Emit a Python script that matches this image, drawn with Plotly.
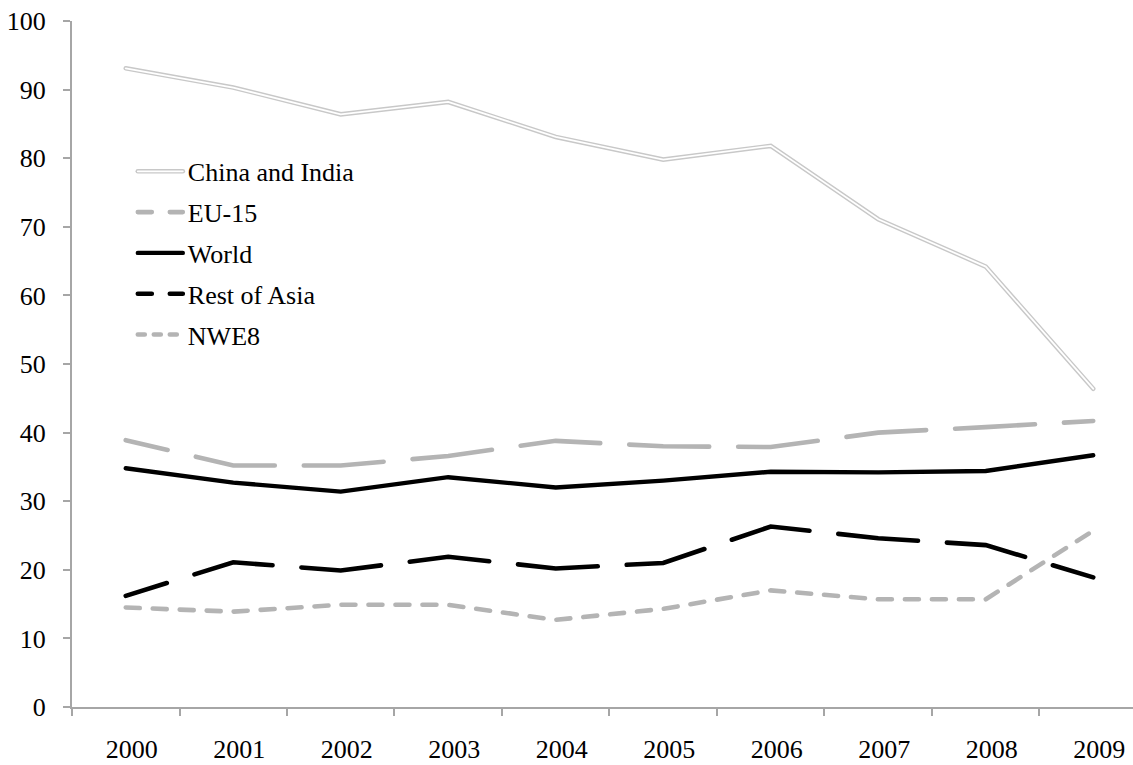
import plotly.graph_objects as go

years = ["2000", "2001", "2002", "2003", "2004", "2005", "2006", "2007", "2008", "2009"]
china_india = [93.1, 90.3, 86.4, 88.2, 83.1, 79.8, 81.8, 71.1, 64.2, 46.4]
eu15 = [38.9, 35.2, 35.2, 36.6, 38.8, 38.0, 37.9, 40.0, 40.8, 41.7]
world = [34.8, 32.7, 31.4, 33.5, 32.0, 33.0, 34.3, 34.2, 34.4, 36.7]
rest_of_asia = [16.2, 21.1, 19.9, 21.9, 20.2, 21.0, 26.3, 24.6, 23.6, 18.9]
nwe8 = [14.5, 13.9, 14.9, 14.9, 12.7, 14.3, 17.0, 15.7, 15.7, 25.7]

FONT = "Liberation Serif, Times New Roman, serif"
AXIS = "#a6a6a6"
LGREY = "#c8c8c8"
MGREY = "#b4b4b4"
FS = 26

fig = go.Figure()
# China and India: double line (grey wide line with white core)
fig.add_trace(go.Scatter(x=years, y=china_india, mode="lines", name="China and India",
                         legendgroup="g1", line=dict(color=LGREY, width=4.6)))
fig.add_trace(go.Scatter(x=years, y=china_india, mode="lines", name="China and India",
                         legendgroup="g1", showlegend=False, line=dict(color="white", width=1.8)))
fig.add_trace(go.Scatter(x=years, y=eu15, mode="lines", name="EU-15", legendgroup="g2",
                         line=dict(color=MGREY, width=4.6, dash="80px,29px")))
fig.add_trace(go.Scatter(x=years, y=world, mode="lines", name="World", legendgroup="g3",
                         line=dict(color="black", width=4.4)))
fig.add_trace(go.Scatter(x=years, y=rest_of_asia, mode="lines", name="Rest of Asia", legendgroup="g4",
                         line=dict(color="black", width=4.6, dash="80px,29px")))
fig.add_trace(go.Scatter(x=years, y=nwe8, mode="lines", name="NWE8", legendgroup="g5",
                         line=dict(color=MGREY, width=4.6, dash="14px,13px")))

fig.update_layout(
    width=1133, height=765,
    margin=dict(l=72, r=0, t=21, b=58),
    paper_bgcolor="white", plot_bgcolor="white",
    font=dict(family=FONT, size=FS, color="black"),
    hovermode=False,
    showlegend=True,
    legend=dict(x=0.0592, y=0.815, xanchor="left", yanchor="top",
                bgcolor="rgba(0,0,0,0)", borderwidth=0,
                traceorder="grouped", tracegroupgap=4,
                itemwidth=43, font=dict(family=FONT, size=FS, color="black")),
    xaxis=dict(type="category", range=[-0.5, 9.37], showgrid=False, zeroline=False,
               showline=True, linecolor=AXIS, linewidth=2,
               ticks="outside", tickson="boundaries", ticklen=7, tickwidth=2, tickcolor=AXIS,
               ticklabelstandoff=18, ticklabelshift=6, tickfont=dict(family=FONT, size=FS)),
    yaxis=dict(range=[0, 100], dtick=10, showgrid=False, zeroline=False,
               showline=True, linecolor=AXIS, linewidth=2,
               ticks="outside", ticklen=7, tickwidth=2, tickcolor=AXIS,
               ticklabelstandoff=12, tickfont=dict(family=FONT, size=FS)),
)

post = """
document.body.style.margin='0';
document.body.style.overflow='hidden';
var gd = document.getElementById('{plot_id}');
gd.querySelectorAll('.scatterlayer path.js-line').forEach(function(p){p.style.strokeLinecap='round';});
var tr = gd.querySelectorAll('.scatterlayer .trace');
[2,4].forEach(function(i){ if(tr[i]){ var p=tr[i].querySelector('path.js-line'); if(p){p.style.strokeDashoffset='37px';} } });
gd.querySelectorAll('.legend .traces').forEach(function(t, i){
  var p = t.querySelector('.legendlines path');
  if(!p) return;
  p.setAttribute('d', 'M3,0h45');
  p.style.strokeLinecap='round';
  if(i===1 || i===3){ p.style.strokeDasharray='14px,18px'; }
  if(i===4){ p.style.strokeDasharray='7px,9px'; }
  if(i===0){ var c=p.cloneNode(); c.style.stroke='#ffffff'; c.style.strokeWidth='1.8px'; p.parentNode.appendChild(c); }
});
"""

fig.write_html("out.html", post_script=post, config={"displayModeBar": False})
